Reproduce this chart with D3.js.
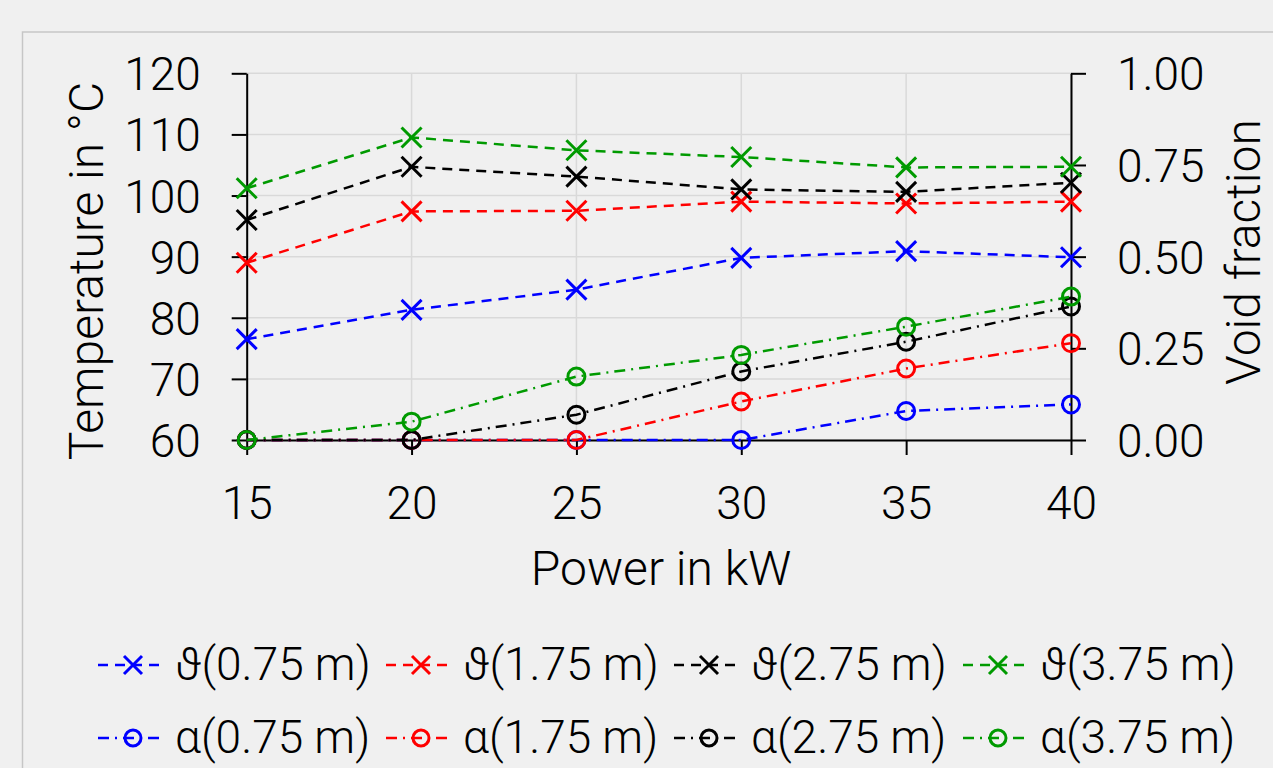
<!DOCTYPE html>
<meta charset="utf-8">

<!-- Load d3.js -->
<script src="https://d3js.org/d3.v7.min.js"></script>

<style>
  body { margin: 0; background: #f0f0f0; }
  text { font-family: Roboto, "Open Sans", sans-serif; font-weight: 300; fill: #000; }
</style>

<!-- Create a div where the graph will take place -->
<div id="my_dataviz"></div>
<script>

    // data
    var power = [15, 20, 25, 30, 35, 40];
    var xTicks = [15, 20, 25, 30, 35, 40];
    var yLeftTicks = [60, 70, 80, 90, 100, 110, 120];
    var yRightTicks = [0, 0.25, 0.5, 0.75, 1];

    // temperatures in °C
    var theta075 = [76.5, 81.3, 84.6, 89.8, 90.9, 89.9];
    var theta175 = [89.0, 97.4, 97.5, 99.0, 98.7, 99.0];
    var theta275 = [96.0, 104.7, 103.1, 101.0, 100.6, 102.1];
    var theta375 = [101.2, 109.5, 107.4, 106.3, 104.6, 104.7];

    // void fraction
    var alpha075 = [0, 0, 0, 0, 0.079, 0.097];
    var alpha175 = [0, 0, 0, 0.105, 0.195, 0.264];
    var alpha275 = [0, 0, 0.069, 0.187, 0.268, 0.364];
    var alpha375 = [0, 0.05, 0.173, 0.232, 0.309, 0.391];

    var labels = ["0.75 m", "1.75 m", "2.75 m", "3.75 m"];
    var colors = ["#0000ff", "#ff0000", "#000000", "#009a00"];

    var W = 1273, H = 768;
    var plot = {left: 246.7, right: 1071, top: 73.3, bottom: 440};

    var svg = d3.select("#my_dataviz")
      .append("svg")
        .attr("width", W)
        .attr("height", H);

    svg.append("rect")
        .attr("width", W).attr("height", H)
        .attr("fill", "#f0f0f0");

    // outer frame (only top and left edges are visible)
    svg.append("rect")
        .attr("x", 22.5).attr("y", 32)
        .attr("width", 1400).attr("height", 900)
        .attr("fill", "none")
        .attr("stroke", "#c6c6c6")
        .attr("stroke-width", 1.5);

    var x = d3.scaleLinear().domain([15, 40]).range([plot.left, plot.right]);
    var yL = d3.scaleLinear().domain([60, 120]).range([plot.bottom, plot.top]);
    var yR = d3.scaleLinear().domain([0, 1]).range([plot.bottom, plot.top]);

    // grid
    var grid = svg.append("g")
        .attr("stroke", "#d9d9d9")
        .attr("stroke-width", 1.5);
    grid.selectAll(".gx").data(xTicks).enter().append("line")
        .attr("x1", function(d) { return x(d); })
        .attr("x2", function(d) { return x(d); })
        .attr("y1", plot.top).attr("y2", plot.bottom);
    grid.selectAll(".gy").data(yLeftTicks).enter().append("line")
        .attr("y1", function(d) { return yL(d); })
        .attr("y2", function(d) { return yL(d); })
        .attr("x1", plot.left).attr("x2", plot.right);

    var tickFont = 46;

    function styleAxis(g) {
      g.select(".domain").attr("stroke", "#000").attr("stroke-width", 2);
      g.selectAll(".tick line").attr("stroke", "#000").attr("stroke-width", 2);
      g.selectAll(".tick text")
        .attr("font-size", tickFont)
        .attr("font-family", "Roboto, 'Open Sans', sans-serif")
        .attr("font-weight", 300)
        .attr("fill", "#000");
    }

    // X axis
    svg.append("g")
        .attr("transform", "translate(0," + plot.bottom + ")")
        .call(d3.axisBottom(x).tickValues(xTicks).tickSize(15).tickSizeOuter(0).tickPadding(31))
        .call(styleAxis);

    // left Y axis
    svg.append("g")
        .attr("transform", "translate(" + plot.left + ",0)")
        .call(d3.axisLeft(yL).tickValues(yLeftTicks).tickSize(15).tickSizeOuter(0).tickPadding(31))
        .call(styleAxis)
        .selectAll(".tick text").attr("dy", "0.36em");

    // right Y axis
    svg.append("g")
        .attr("transform", "translate(" + plot.right + ",0)")
        .call(d3.axisRight(yR).tickValues(yRightTicks).tickSize(15).tickSizeOuter(0).tickPadding(31)
          .tickFormat(d3.format(".2f")))
        .call(styleAxis)
        .selectAll(".tick text").attr("dy", "0.36em");

    // axis titles
    var titleFont = 48;
    svg.append("text")
        .attr("transform", "translate(103,271) rotate(-90)")
        .attr("text-anchor", "middle")
        .attr("font-size", titleFont)
        .text("Temperature in °C");
    svg.append("text")
        .attr("transform", "translate(1260,252) rotate(-90)")
        .attr("text-anchor", "middle")
        .attr("font-size", titleFont)
        .text("Void fraction");
    svg.append("text")
        .attr("x", 661).attr("y", 585)
        .attr("text-anchor", "middle")
        .attr("font-size", titleFont)
        .text("Power in kW");

    // series
    var thetaSeries = [theta075, theta175, theta275, theta375];
    var alphaSeries = [alpha075, alpha175, alpha275, alpha375];
    var dashTheta = "10,7";
    var dashAlpha = "11,6,2,6";

    function cross(g, cx, cy, r, color) {
      g.append("path")
        .attr("d", "M" + (cx - r) + "," + (cy - r) + "L" + (cx + r) + "," + (cy + r) +
                   "M" + (cx - r) + "," + (cy + r) + "L" + (cx + r) + "," + (cy - r))
        .attr("stroke", color)
        .attr("stroke-width", 3)
        .attr("fill", "none");
    }

    function circle(g, cx, cy, r, color) {
      g.append("circle")
        .attr("cx", cx).attr("cy", cy).attr("r", r)
        .attr("fill", "none")
        .attr("stroke", color)
        .attr("stroke-width", 3);
    }

    var marks = svg.append("g");

    thetaSeries.forEach(function(s, i) {
      var line = d3.line()
        .x(function(d, j) { return x(power[j]); })
        .y(function(d) { return yL(d); });
      marks.append("path")
        .attr("d", line(s))
        .attr("fill", "none")
        .attr("stroke", colors[i])
        .attr("stroke-width", 2.5)
        .attr("stroke-dasharray", dashTheta);
      s.forEach(function(d, j) { cross(marks, x(power[j]), yL(d), 10, colors[i]); });
    });

    alphaSeries.forEach(function(s, i) {
      var line = d3.line()
        .x(function(d, j) { return x(power[j]); })
        .y(function(d) { return yR(d); });
      marks.append("path")
        .attr("d", line(s))
        .attr("fill", "none")
        .attr("stroke", colors[i])
        .attr("stroke-width", 2.5)
        .attr("stroke-dasharray", dashAlpha);
      s.forEach(function(d, j) { circle(marks, x(power[j]), yR(d), 8.5, colors[i]); });
    });

    // legend
    var legFont = 46;
    var legX = [98, 386, 674, 963];
    var rows = [
      {sym: "\u03D1", y: 665, dash: dashTheta, mark: "cross", series: thetaSeries},
      {sym: "\u03B1", y: 738, dash: dashAlpha, mark: "circle", series: alphaSeries}
    ];
    var legend = svg.append("g");
    rows.forEach(function(row) {
      labels.forEach(function(lab, i) {
        var x0 = legX[i];
        legend.append("line")
          .attr("x1", x0).attr("x2", x0 + 64)
          .attr("y1", row.y).attr("y2", row.y)
          .attr("stroke", colors[i])
          .attr("stroke-width", 2.5)
          .attr("stroke-dasharray", row.dash);
        if (row.mark === "cross") cross(legend, x0 + 35, row.y, 9, colors[i]);
        else circle(legend, x0 + 35, row.y, 8, colors[i]);
        legend.append("text")
          .attr("x", x0 + 77)
          .attr("y", row.y + 15)
          .attr("font-size", legFont)
          .text(row.sym + "(" + lab + ")");
      });
    });

</script>
